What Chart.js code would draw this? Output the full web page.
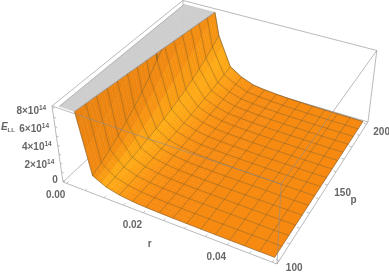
<!DOCTYPE html>
<html>
<head>
<meta charset="utf-8">
<style>
  html, body { margin: 0; padding: 0; background: #fff; }
  #wrap { width: 389px; height: 273px; }
</style>
<script src="https://cdn.jsdelivr.net/npm/chart.js@4"></script>
</head>
<body>
<div id="wrap"><canvas id="surfaceChart" width="389" height="273"></canvas></div>
<script>
// mesh positions of the surface
const rValues = [0, 0.00333, 0.00667, 0.01, 0.01333, 0.01667, 0.02, 0.02333, 0.02667, 0.03, 0.03333, 0.03667, 0.04, 0.04333, 0.04667, 0.05];
const pValues = [100, 106.67, 113.33, 120, 126.67, 133.33, 140, 146.67, 153.33, 160, 166.67, 173.33, 180, 186.67, 193.33, 200];

// E_LL in units of 1e14, one array per r, one entry per p (above 8 is clipped)
const eAtR00 = [50, 50, 50, 50, 50, 50, 50, 50, 50, 50, 50, 50, 50, 50, 50, 50];
const eAtR01 = [9.34, 10.2, 11.06, 12.07, 13.2, 14.4, 15.9, 17.4, 20, 22, 24, 26, 28, 30, 32, 34];
const eAtR02 = [1.5, 1.95, 2.5, 3.1, 3.8, 4.55, 5.35, 6.3, 7.35, 8.28, 8.9, 9.6, 10.4, 11.2, 12.2, 13.3];
const eAtR03 = [0.75, 0.86, 0.98, 1.11, 1.27, 1.45, 1.65, 1.88, 2.15, 2.45, 2.8, 3.2, 3.65, 4.15, 4.75, 5.4];
const eAtR04 = [0.4, 0.445, 0.495, 0.55, 0.61, 0.68, 0.76, 0.85, 0.94, 1.05, 1.17, 1.3, 1.45, 1.61, 1.79, 2];
const eAtR05 = [0.22, 0.245, 0.27, 0.305, 0.34, 0.375, 0.42, 0.465, 0.52, 0.58, 0.64, 0.715, 0.8, 0.885, 0.985, 1.1];
const eAtR06 = [0.13, 0.143, 0.157, 0.173, 0.19, 0.21, 0.23, 0.253, 0.28, 0.31, 0.34, 0.37, 0.41, 0.45, 0.5, 0.55];
const eAtR07 = [0.085, 0.094, 0.103, 0.113, 0.125, 0.137, 0.15, 0.166, 0.183, 0.2, 0.22, 0.245, 0.27, 0.295, 0.325, 0.36];
const eAtR08 = [0.06, 0.066, 0.072, 0.08, 0.087, 0.096, 0.105, 0.115, 0.127, 0.14, 0.154, 0.17, 0.187, 0.2, 0.22, 0.24];
const eAtR09 = [0.045, 0.049, 0.053, 0.058, 0.063, 0.069, 0.075, 0.082, 0.09, 0.098, 0.107, 0.117, 0.127, 0.138, 0.15, 0.16];
const eAtR10 = [0.03, 0.033, 0.036, 0.039, 0.043, 0.047, 0.051, 0.056, 0.061, 0.067, 0.073, 0.08, 0.087, 0.094, 0.102, 0.11];
const eAtR11 = [0.022, 0.024, 0.026, 0.029, 0.032, 0.034, 0.038, 0.041, 0.045, 0.049, 0.053, 0.058, 0.063, 0.068, 0.074, 0.08];
const eAtR12 = [0.017, 0.018, 0.02, 0.022, 0.024, 0.026, 0.029, 0.031, 0.034, 0.037, 0.04, 0.043, 0.047, 0.051, 0.055, 0.06];
const eAtR13 = [0.013, 0.014, 0.015, 0.017, 0.018, 0.02, 0.022, 0.024, 0.026, 0.028, 0.03, 0.032, 0.035, 0.038, 0.041, 0.045];
const eAtR14 = [0.01, 0.011, 0.012, 0.013, 0.014, 0.015, 0.017, 0.018, 0.02, 0.021, 0.023, 0.025, 0.027, 0.03, 0.032, 0.035];
const eAtR15 = [0.008, 0.009, 0.01, 0.011, 0.012, 0.013, 0.014, 0.015, 0.016, 0.018, 0.019, 0.021, 0.023, 0.025, 0.027, 0.03];
const eValues = [eAtR00, eAtR01, eAtR02, eAtR03, eAtR04, eAtR05, eAtR06, eAtR07, eAtR08, eAtR09, eAtR10, eAtR11, eAtR12, eAtR13, eAtR14, eAtR15];

// tick labels
const rTicks = [0, 0.02, 0.04];
const rTickLabels = ["0.00", "0.02", "0.04"];
const pTicks = [100, 150, 200];
const pTickLabels = ["100", "150", "200"];
const zTicks = [0, 2, 4, 6, 8];
const zTickLabels = ["0", "2", "4", "6", "8"];
const rMinorTicks = [0, 0.005, 0.01, 0.015, 0.02, 0.025, 0.03, 0.035, 0.04, 0.045, 0.05];
const pMinorTicks = [100, 110, 120, 130, 140, 150, 160, 170, 180, 190, 200];
const zMinorTicks = [0, 1, 2, 3, 4, 5, 6, 7, 8];

// box range, padded like the original plot
const rMin = -0.001, rMax = 0.051;
const pMin = 98, pMax = 202;
const zMin = -0.16, zMax = 8.16;
const zTop = 8;

// camera: where the box corners land on the canvas + perspective weights
const cO = { x: 63, y: 182 }, cA = { x: 277, y: 264 }, cB = { x: 185, y: 68 }, cC = { x: 52, y: 106 };
const wA = 0.888, wB = 1.225, wC = 0.936;

function project(r, p, z) {
    const u = (r - rMin) / (rMax - rMin);
    const v = (p - pMin) / (pMax - pMin);
    const t = (z - zMin) / (zMax - zMin);
    const w = 1 + u * (wA - 1) + v * (wB - 1) + t * (wC - 1);
    return {
        x: (cO.x + u * (wA * cA.x - cO.x) + v * (wB * cB.x - cO.x) + t * (wC * cC.x - cO.x)) / w,
        y: (cO.y + u * (wA * cA.y - cO.y) + v * (wB * cB.y - cO.y) + t * (wC * cC.y - cO.y)) / w,
    };
}

// colour ramp: distance in r from the bright band at the foot of the cliff
const rampStops = [
    [-0.02, [230, 126, 16]],
    [-0.006, [232, 128, 16]],
    [-0.003, [241, 138, 17]],
    [-0.0015, [248, 152, 18]],
    [0, [254, 172, 22]],
    [0.003, [253, 160, 20]],
    [0.006, [250, 147, 18]],
    [0.012, [247, 138, 16]],
    [0.06, [247, 137, 16]],
];

function rampColor(a) {
    for (let k = 1; k < rampStops.length; k++) {
        if (a <= rampStops[k][0]) {
            const f = (a - rampStops[k - 1][0]) / (rampStops[k][0] - rampStops[k - 1][0]);
            const c0 = rampStops[k - 1][1], c1 = rampStops[k][1];
            return `rgb(${Math.round(c0[0] + (c1[0] - c0[0]) * f)},${Math.round(c0[1] + (c1[1] - c0[1]) * f)},${Math.round(c0[2] + (c1[2] - c0[2]) * f)})`;
        }
    }
    return `rgb(${rampStops[rampStops.length - 1][1].join(",")})`;
}

function bandOffset(r, p) {
    return r - (0.0095 + (p - 100) * 0.00002);
}

// cut a polygon at z = zTop, keep below or above
function clipPoly(pts, below) {
    const out = [];
    for (let k = 0; k < pts.length; k++) {
        const a = pts[k], b = pts[(k + 1) % pts.length];
        const aIn = below ? a.z <= zTop : a.z >= zTop;
        const bIn = below ? b.z <= zTop : b.z >= zTop;
        if (aIn) out.push(a);
        if (aIn !== bIn) {
            const f = (zTop - a.z) / (b.z - a.z);
            out.push({ r: a.r + (b.r - a.r) * f, p: a.p + (b.p - a.p) * f, z: zTop });
        }
    }
    return out;
}

function toLine(pts, color, width) {
    return {
        data: pts.map(q => project(q.r, q.p, q.z)),
        showLine: true, fill: false, borderColor: color, borderWidth: width,
        pointRadius: 0, tension: 0,
    };
}

function toPoly(pts, color) {
    const data = pts.map(q => project(q.r, q.p, q.z));
    data.push(data[0]);
    return {
        data: data, showLine: true, fill: "shape", backgroundColor: color, borderColor: color,
        borderWidth: 0.5, pointRadius: 0, tension: 0,
    };
}

// part of a mesh line that stays under the clip height
function belowTop(pts) {
    const out = [];
    for (let k = 0; k < pts.length; k++) {
        const a = pts[k], b = pts[k + 1];
        if (a.z <= zTop) out.push(a);
        if (b && (a.z <= zTop) !== (b.z <= zTop)) {
            const f = (zTop - a.z) / (b.z - a.z);
            out.push({ r: a.r + (b.r - a.r) * f, p: a.p + (b.p - a.p) * f, z: zTop });
        }
    }
    return out;
}

function rLine(i) { return pValues.map((p, j) => ({ r: rValues[i], p: p, z: eValues[i][j] })); }
function pLine(j) { return rValues.map((r, i) => ({ r: r, p: pValues[j], z: eValues[i][j] })); }

function box(a, b) {
    const c = k => ({ r: k[0] ? rMax : rMin, p: k[1] ? pMax : pMin, z: k[2] ? zMax : zMin });
    return toLine([c(a), c(b)], "rgba(140,140,140,0.6)", 1);
}

const datasets = [];

// box edges behind the surface
datasets.push(box([0, 0, 0], [0, 1, 0]), box([0, 1, 0], [1, 1, 0]), box([0, 1, 0], [0, 1, 1]));
datasets.push(box([0, 1, 1], [1, 1, 1]), box([0, 0, 1], [0, 1, 1]));

// surface, back to front
for (let i = 0; i < rValues.length - 1; i++) {
    for (let j = pValues.length - 2; j >= 0; j--) {
        const sub = i < 9 ? 3 : 1;
        const at = (f, g) => ({
            r: rValues[i] + (rValues[i + 1] - rValues[i]) * f,
            p: pValues[j] + (pValues[j + 1] - pValues[j]) * g,
            z: (1 - f) * (1 - g) * eValues[i][j] + f * (1 - g) * eValues[i + 1][j] + (1 - f) * g * eValues[i][j + 1] + f * g * eValues[i + 1][j + 1],
        });
        for (let a = 0; a < sub; a++) {
            for (let b = sub - 1; b >= 0; b--) {
                const quad = [at(a / sub, b / sub), at((a + 1) / sub, b / sub), at((a + 1) / sub, (b + 1) / sub), at(a / sub, (b + 1) / sub)];
                const under = clipPoly(quad, true);
                if (under.length > 2) {
                    const mean = under.reduce((t, q) => t + bandOffset(q.r, q.p), 0) / under.length;
                    datasets.push(toPoly(under, rampColor(mean)));
                }
                const over = clipPoly(quad, false);
                if (over.length > 2) {
                    datasets.push(toPoly(over.map(q => ({ r: q.r, p: q.p, z: zTop })), "#cdcdcd"));
                }
            }
        }
    }
}

// mesh lines
for (let i = 1; i < rValues.length - 1; i++) datasets.push(toLine(belowTop(rLine(i)), "rgba(100,80,35,0.5)", 0.8));
for (let j = 1; j < pValues.length - 1; j++) datasets.push(toLine(belowTop(pLine(j)), "rgba(100,80,35,0.5)", 0.8));

// surface outline
const edgeColor = "rgba(80,70,50,0.6)";
datasets.push(toLine(belowTop(pLine(0)), edgeColor, 0.7));
datasets.push(toLine(belowTop(pLine(pValues.length - 1)), edgeColor, 0.9));
datasets.push(toLine(rLine(rValues.length - 1), edgeColor, 0.7));
datasets.push(toLine(pValues.map(p => ({ r: 0, p: p, z: zTop })), "rgba(120,120,120,0.6)", 0.6));
datasets.push(toLine(pValues.map((p, j) => {
    const run = belowTop(pLine(j));
    return run[0];
}), "rgba(110,100,90,0.7)", 0.7));

// box edges in front of the surface
datasets.push(box([0, 0, 0], [1, 0, 0]), box([1, 0, 0], [1, 1, 0]), box([0, 0, 0], [0, 0, 1]));
datasets.push(box([1, 0, 0], [1, 0, 1]), box([1, 1, 0], [1, 1, 1]));
datasets.push(box([0, 0, 1], [1, 0, 1]), box([1, 0, 1], [1, 1, 1]));

// small tick marks on the three labelled axes
rMinorTicks.forEach(r => datasets.push(toLine([{ r: r, p: pMin, z: zMin }, { r: r, p: pMin + 1.4, z: zMin }], "#b0b0b0", 0.8)));
pMinorTicks.forEach(p => datasets.push(toLine([{ r: rMax, p: p, z: zMin }, { r: rMax - 0.0007, p: p, z: zMin }], "#b0b0b0", 0.8)));
zMinorTicks.forEach(z => datasets.push(toLine([{ r: rMin, p: pMin, z: z }, { r: rMin + 0.0006, p: pMin, z: z }], "#b0b0b0", 0.8)));

// chart.js paints the first dataset last, we collected back to front
datasets.reverse();

const labelColor = "#666666";

function drawText(ctx, text, x, y, font, align) {
    ctx.font = font;
    ctx.textAlign = align;
    ctx.textBaseline = "middle";
    ctx.fillStyle = labelColor;
    ctx.fillText(text, x, y);
}

const axisText = {
    id: "axisText",
    afterDraw(chart) {
        const ctx = chart.ctx;
        const sx = chart.scales.x, sy = chart.scales.y;
        const family = "'Liberation Sans', sans-serif";
        const font = "bold 10px " + family;
        const small = "bold 6.5px " + family;
        ctx.save();
        rTicks.forEach((r, k) => {
            const q = project(r, pMin, zMin);
            drawText(ctx, rTickLabels[k], sx.getPixelForValue(q.x) - 11, sy.getPixelForValue(q.y) + 12, font, "center");
        });
        pTicks.forEach((p, k) => {
            const q = project(rMax, p, zMin);
            drawText(ctx, pTickLabels[k], sx.getPixelForValue(q.x) + 15, sy.getPixelForValue(q.y) + 8, font, "center");
        });
        zTicks.forEach((z, k) => {
            const q = project(rMin, pMin, z);
            const px = sx.getPixelForValue(q.x) - 6, py = sy.getPixelForValue(q.y) + 1 + z * 0.3;
            if (z === 0) {
                drawText(ctx, "0", px + 1, py - 1, font, "right");
            } else {
                // mantissa x 10^14, exponent as a smaller raised text
                drawText(ctx, "14", px, py - 3, small, "right");
                const w = ctx.measureText("14").width;
                drawText(ctx, zTickLabels[k] + "\u00d7" + "10", px - w, py, font, "right");
            }
        });
        // axis names
        const rq = project(0.025, pMin, zMin);
        drawText(ctx, "r", sx.getPixelForValue(rq.x) - 14, sy.getPixelForValue(rq.y) + 24, font, "center");
        const pq = project(rMax, 150, zMin);
        drawText(ctx, "p", sx.getPixelForValue(pq.x) + 26, sy.getPixelForValue(pq.y) + 15, font, "center");
        drawText(ctx, "E", 1, 127, "italic bold 10px " + family, "left");
        drawText(ctx, "LL", 7.5, 130, "bold 6px " + family, "left");
        ctx.restore();
    },
};

new Chart(document.getElementById("surfaceChart"), {
    type: "scatter",
    data: { datasets: datasets },
    options: {
        responsive: false,
        animation: false,
        events: [],
        layout: { padding: 0 },
        plugins: { legend: { display: false }, tooltip: { enabled: false } },
        scales: {
            x: { type: "linear", min: 0, max: 389, display: false },
            y: { type: "linear", min: 0, max: 273, reverse: true, display: false },
        },
    },
    plugins: [axisText],
});
</script>
</body>
</html>
